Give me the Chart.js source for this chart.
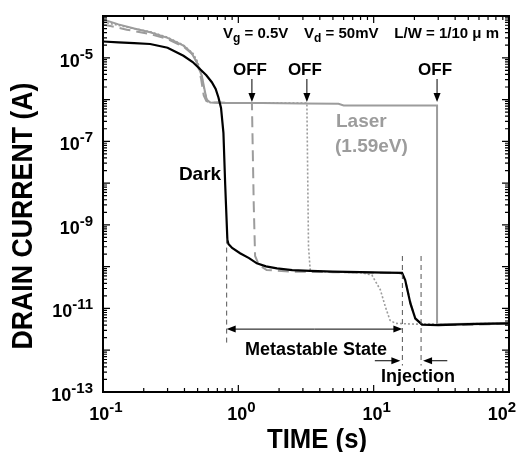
<!DOCTYPE html>
<html>
<head>
<meta charset="utf-8">
<script src="https://cdn.jsdelivr.net/npm/chart.js@4.4.1/dist/chart.umd.min.js"></script>
<style>
  body { margin: 0; background: #fff; }
  #wrap { width: 524px; height: 452px; }
</style>
</head>
<body>
<div id="wrap"><canvas id="chart" width="524" height="452"></canvas></div>
<script>
// time (s) and drain current (A)
const darkTime = [0.1, 0.13, 0.17, 0.223, 0.3, 0.393, 0.46, 0.52, 0.58, 0.637, 0.68, 0.713, 0.745, 0.776, 0.80, 0.83, 0.845, 0.9, 1.03, 1.2, 1.37, 1.6, 1.93, 2.5, 3.4, 5, 8, 12, 16.2, 17.1, 18.7, 20.3, 22.8, 30, 50, 100];
const darkCurrent = [2.45e-5, 2.34e-5, 2.24e-5, 2.14e-5, 1.74e-5, 1.12e-5, 7.9e-6, 5.4e-6, 3.8e-6, 2.6e-6, 1.8e-6, 1.12e-6, 6.3e-7, 1.6e-7, 8.9e-9, 4.4e-10, 3.5e-10, 2.8e-10, 2.1e-10, 1.6e-10, 1.2e-10, 1.02e-10, 9.1e-11, 8.3e-11, 7.9e-11, 7.6e-11, 7.4e-11, 7.2e-11, 7.1e-11, 4.8e-11, 1.3e-11, 5.8e-12, 4.1e-12, 4.0e-12, 4.2e-12, 4.4e-12];

const laserTime = [0.1, 0.13, 0.17, 0.223, 0.3, 0.393, 0.45, 0.493, 0.537, 0.568, 0.583, 0.62, 0.8, 1.5, 3, 5.5, 6, 10, 20, 29.4, 29.4, 50, 100];
const laserCurrent = [8.3e-5, 6.3e-5, 5.0e-5, 4.1e-5, 3.0e-5, 1.95e-5, 1.32e-5, 7.8e-6, 3.7e-6, 1.5e-6, 1.0e-6, 8.5e-7, 8.3e-7, 8.3e-7, 8.1e-7, 7.9e-7, 7.2e-7, 7.2e-7, 7.2e-7, 7.2e-7, 4.2e-12, 4.3e-12, 4.5e-12];

const off1Time = [0.1, 0.15, 0.223, 0.3, 0.393, 0.46, 0.5, 0.53, 0.555, 0.58, 0.62, 0.9, 1.26, 1.30, 1.33, 1.42, 1.62, 2.5, 5, 10, 15, 16.3, 17.3, 18.8, 20.3, 23, 40, 100];
const off1Current = [6.3e-5, 4.7e-5, 3.7e-5, 2.8e-5, 1.86e-5, 1.2e-5, 7.1e-6, 3.2e-6, 1.26e-6, 9.3e-7, 8.5e-7, 8.3e-7, 8.3e-7, 3e-9, 1.8e-10, 1.1e-10, 8.3e-11, 7.6e-11, 7.4e-11, 7.2e-11, 7.1e-11, 6.8e-11, 4e-11, 1.3e-11, 5.6e-12, 4.0e-12, 4.0e-12, 4.3e-12];

const off2Time = [0.1, 0.15, 0.223, 0.3, 0.393, 0.46, 0.5, 0.535, 0.56, 0.585, 0.62, 1, 2, 3.21, 3.3, 3.4, 5, 8, 9.7, 11.2, 12.2, 13.2, 14.5, 20, 50, 100];
const off2Current = [7.2e-5, 5.4e-5, 4.2e-5, 3.1e-5, 2.0e-5, 1.3e-5, 8e-6, 4e-6, 1.7e-6, 1e-6, 8.5e-7, 8.3e-7, 8.3e-7, 8.3e-7, 3e-10, 8e-11, 7.4e-11, 7.2e-11, 6.3e-11, 2.8e-11, 1.1e-11, 5.2e-12, 4.4e-12, 4.2e-12, 4.3e-12, 4.5e-12];

// axis ticks
const xDecades = [-1, 0, 1, 2];
const yDecades = [-13, -12, -11, -10, -9, -8, -7, -6, -5, -4];
const yLabelled = [-13, -11, -9, -7, -5];

// annotations
const offTimes = [1.26, 3.21, 29.4];
const metaStart = 0.82, metaEnd = 16.3, injEnd = 22.4;

function pts(t, v) {
    return t.map((x, i) => ({ x: x, y: v[i] }));
}

const FONT = '"Liberation Sans", Arial, sans-serif';
const GRAY = '#9c9c9c';

function drawPow(ctx, exp, x, y, align) {
    // "10" with superscript exponent, y = baseline of "10"
    ctx.font = 'bold 18px ' + FONT;
    const base = '10';
    const wb = ctx.measureText(base).width;
    ctx.font = 'bold 15px ' + FONT;
    const sup = String(exp);
    const ws = ctx.measureText(sup).width;
    const w = wb + ws;
    let x0 = x;
    if (align === 'right') x0 = x - w;
    if (align === 'center') x0 = Math.min(x - w / 2, 516 - w);
    ctx.textAlign = 'left';
    ctx.textBaseline = 'alphabetic';
    ctx.font = 'bold 18px ' + FONT;
    ctx.fillText(base, x0, y);
    ctx.font = 'bold 15px ' + FONT;
    ctx.fillText(sup, x0 + wb, y - 8);
}

function arrow(ctx, x1, y1, x2, y2) {
    const a = Math.atan2(y2 - y1, x2 - x1);
    const L = 9, W = 3.5;
    ctx.beginPath();
    ctx.moveTo(x1, y1);
    ctx.lineTo(x2 - L * 0.8 * Math.cos(a), y2 - L * 0.8 * Math.sin(a));
    ctx.stroke();
    ctx.beginPath();
    ctx.moveTo(x2, y2);
    ctx.lineTo(x2 - L * Math.cos(a) + W * Math.sin(a), y2 - L * Math.sin(a) - W * Math.cos(a));
    ctx.lineTo(x2 - L * Math.cos(a) - W * Math.sin(a), y2 - L * Math.sin(a) + W * Math.cos(a));
    ctx.closePath();
    ctx.fill();
}

function fitText(ctx, text, x, y, size, width) {
    ctx.font = 'bold ' + size + 'px ' + FONT;
    const w = ctx.measureText(text).width;
    ctx.save();
    ctx.translate(x, y);
    ctx.scale(width / w, 1);
    ctx.textAlign = 'center';
    ctx.fillText(text, 0, 0);
    ctx.restore();
}

const decor = {
    id: 'decor',
    afterDraw(chart) {
        const ctx = chart.ctx;
        const xs = chart.scales.x, ys = chart.scales.y;
        const a = chart.chartArea;
        ctx.save();
        ctx.fillStyle = '#000';
        ctx.strokeStyle = '#000';

        // frame
        ctx.lineWidth = 2;
        ctx.strokeRect(a.left, a.top, a.right - a.left, a.bottom - a.top);

        // ticks (inward, all four sides)
        ctx.lineWidth = 1.2;
        ctx.beginPath();
        xDecades.forEach(d => {
            for (let m = 1; m <= 9; m++) {
                const v = m * Math.pow(10, d);
                if (v > 100.0001) break;
                const px = xs.getPixelForValue(v);
                const len = m === 1 ? 7 : 4;
                ctx.moveTo(px, a.bottom); ctx.lineTo(px, a.bottom - len);
                ctx.moveTo(px, a.top); ctx.lineTo(px, a.top + len);
            }
        });
        yDecades.forEach(d => {
            for (let m = 1; m <= 9; m++) {
                const v = m * Math.pow(10, d);
                if (v > 1.0001e-4) break;
                const py = ys.getPixelForValue(v);
                const len = m === 1 ? 7 : 4;
                ctx.moveTo(a.left, py); ctx.lineTo(a.left + len, py);
                ctx.moveTo(a.right, py); ctx.lineTo(a.right - len, py);
            }
        });
        ctx.stroke();

        // tick labels
        yLabelled.forEach(d => {
            drawPow(ctx, d, 93, ys.getPixelForValue(Math.pow(10, d)) + 9, 'right');
        });
        xDecades.forEach(d => {
            drawPow(ctx, d, xs.getPixelForValue(Math.pow(10, d)) + 3, 420, 'center');
        });

        // axis titles
        fitText(ctx, 'TIME (s)', 317, 448, 28, 100);
        ctx.save();
        ctx.translate(32, 216);
        ctx.rotate(-Math.PI / 2);
        fitText(ctx, 'DRAIN CURRENT (A)', 0, 0, 30, 267);
        ctx.restore();

        // top condition text
        const segs = [
            ['V', 0], ['g', 1], [' = 0.5V', 0], [null],
            ['V', 0], ['d', 1], [' = 50mV', 0], [null],
            ['L/W = 1/10 \u03bc m', 0]
        ];
        const mainF = 'bold 15px ' + FONT, subF = 'bold 12px ' + FONT;
        let total = 0, gaps = 0;
        segs.forEach(s => {
            if (s[0] === null) { gaps++; return; }
            ctx.font = s[1] ? subF : mainF;
            total += ctx.measureText(s[0]).width;
        });
        const gap = (499 - 223 - total) / gaps;
        let cx = 223;
        ctx.textAlign = 'left';
        segs.forEach(s => {
            if (s[0] === null) { cx += gap; return; }
            ctx.font = s[1] ? subF : mainF;
            ctx.fillText(s[0], cx, s[1] ? 42 : 38);
            cx += ctx.measureText(s[0]).width;
        });

        // OFF labels and arrows
        ctx.lineWidth = 1;
        offTimes.forEach(t => {
            const px = xs.getPixelForValue(t);
            ctx.font = 'bold 17px ' + FONT;
            ctx.textAlign = 'center';
            ctx.fillText('OFF', px - 2, 75);
            arrow(ctx, px, 79, px, 102);
        });

        // curve labels
        ctx.font = 'bold 19px ' + FONT;
        ctx.textAlign = 'center';
        ctx.fillText('Dark', 200, 180);
        ctx.fillStyle = GRAY;
        ctx.textAlign = 'left';
        ctx.fillText('Laser', 336, 127);
        ctx.fillText('(1.59eV)', 335, 152);
        ctx.fillStyle = '#000';

        // dashed marker lines
        const xm0 = xs.getPixelForValue(metaStart);
        const xm1 = xs.getPixelForValue(metaEnd);
        const xm2 = xs.getPixelForValue(injEnd);
        ctx.strokeStyle = '#555';
        ctx.lineWidth = 1;
        ctx.setLineDash([5, 4]);
        ctx.beginPath();
        ctx.moveTo(xm0, ys.getPixelForValue(4.7e-10)); ctx.lineTo(xm0, ys.getPixelForValue(1.4e-12));
        ctx.moveTo(xm1, ys.getPixelForValue(1.8e-10)); ctx.lineTo(xm1, ys.getPixelForValue(4.3e-13));
        ctx.moveTo(xm2, ys.getPixelForValue(1.8e-10)); ctx.lineTo(xm2, ys.getPixelForValue(4.3e-13));
        ctx.stroke();
        ctx.setLineDash([]);

        // metastable arrow
        ctx.strokeStyle = '#000';
        ctx.fillStyle = '#000';
        const ym = ys.getPixelForValue(3.2e-12);
        const mid = (xm0 + xm1) / 2;
        arrow(ctx, mid, ym, xm0, ym);
        arrow(ctx, mid, ym, xm1, ym);
        ctx.font = 'bold 18px ' + FONT;
        ctx.textAlign = 'center';
        ctx.fillText('Metastable State', 316, 355);

        // injection arrows
        const yi = ys.getPixelForValue(5.6e-13);
        arrow(ctx, xs.getPixelForValue(10.2), yi, xm1 - 2, yi);
        arrow(ctx, xs.getPixelForValue(35), yi, xm2 + 2, yi);
        ctx.fillText('Injection', 418, 382);

        ctx.restore();
    }
};

new Chart(document.getElementById('chart'), {
    type: 'line',
    data: {
        datasets: [
            { label: 'Dark', data: pts(darkTime, darkCurrent), borderColor: '#000', borderWidth: 2.2 },
            { label: 'Laser', data: pts(laserTime, laserCurrent), borderColor: GRAY, borderWidth: 2 },
            { label: 'OFF 1.3 s', data: pts(off1Time, off1Current), borderColor: GRAY, borderWidth: 2, borderDash: [11, 6] },
            { label: 'OFF 3.2 s', data: pts(off2Time, off2Current), borderColor: GRAY, borderWidth: 1.6, borderDash: [2, 2] }
        ]
    },
    options: {
        responsive: false,
        animation: false,
        devicePixelRatio: 1,
        layout: { padding: { left: 103, right: 15, top: 16, bottom: 60 } },
        elements: { point: { radius: 0 }, line: { tension: 0 } },
        scales: {
            x: { type: 'logarithmic', min: 0.1, max: 100, display: false },
            y: { type: 'logarithmic', min: 1e-13, max: 1e-4, display: false }
        },
        plugins: { legend: { display: false }, tooltip: { enabled: false } }
    },
    plugins: [decor]
});
</script>
</body>
</html>
